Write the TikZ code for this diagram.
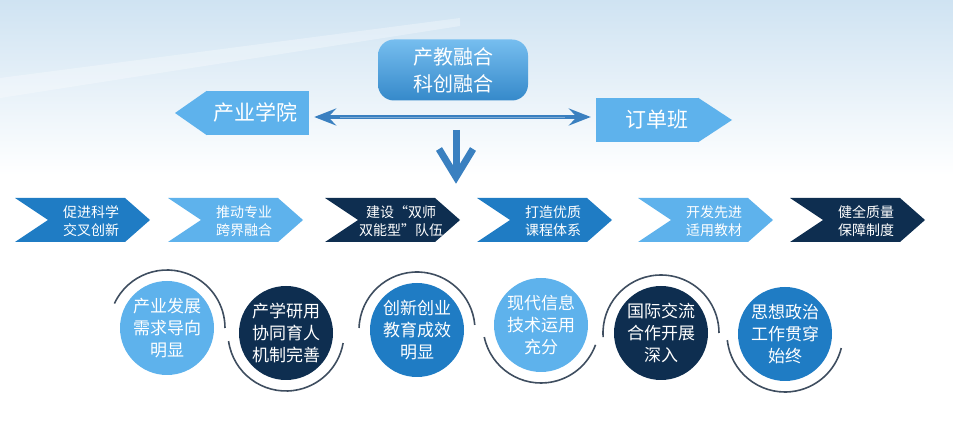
\documentclass[tikz,border=0pt]{standalone}
\usepackage{fontspec}
\setmainfont{Noto Sans CJK SC}
\usetikzlibrary{calc,arrows.meta}
\definecolor{midblue}{HTML}{1F7CC4}
\definecolor{lightblue}{HTML}{5EB2EC}
\definecolor{navy}{HTML}{0E2E50}
\definecolor{arrowblue}{HTML}{3A80C0}
\definecolor{arcgray}{HTML}{3F4E60}
\definecolor{bgblue}{HTML}{CFE3F2}
\tikzstyle{corebox}=[rectangle,rounded corners=16pt,minimum width=150pt,minimum height=61pt,top color=lightblue!85,bottom color=midblue!90,text=white,align=center,font=\fontsize{20}{27}\selectfont]
\tikzstyle{tagbody}=[rectangle,fill=lightblue,minimum width=102pt,minimum height=44pt,inner sep=0pt]
\tikzstyle{tagtext}=[text=white,font=\fontsize{21}{24}\selectfont]
\tikzstyle{chevtext}=[text=white,align=center,inner sep=0pt,font=\fontsize{14}{18}\selectfont]
\tikzstyle{ball}=[circle,minimum size=94pt,inner sep=0pt,text=white,align=center,font=\fontsize{17}{22}\selectfont]
\tikzstyle{ring}=[draw=arcgray,line width=1.6pt]
\tikzstyle{link}=[draw=arrowblue,line width=3.5pt,-{Stealth[length=22pt,width=17pt,inset=8pt]}]

\begin{document}
\begin{tikzpicture}[x=1pt,y=-1pt]
  \useasboundingbox (0,0) rectangle (953,443);
  % background wash
  \shade[top color=bgblue,bottom color=white] (0,0) rectangle (953,175);
  \fill[white,opacity=0.3] (0,78) -- (460,18) -- (460,26) -- (0,98) -- cycle;

  % top box and the two tags
  \node[corebox] (core) at (453,70) {产教融合\\科创融合};
  \node[tagbody] (college) at (258,113) {};
  \fill[lightblue] (college.north west) -- (175,113) -- (college.south west) -- cycle;
  \node[tagtext] at (255,113) {产业学院};
  \node[tagbody] (order) at (647,120) {};
  \fill[lightblue] (order.north east) -- (732,120) -- (order.south east) -- cycle;
  \node[tagtext] at (657,120) {订单班};

  % arrows
  \coordinate (mid) at ($(college.east)!0.5!(order.west)$);
  \draw[link,shorten >=5pt] (mid |- 0,117) -- (order.west |- 0,117);
  \draw[link,shorten >=5pt] (mid |- 0,117) -- (college.east |- 0,117);
  \draw[white,opacity=0.35,line width=0.8pt] (340,117) -- (565,117);
  \coordinate (down-s) at (456,130);
  \coordinate (down-e) at (456,177);
  \draw[arrowblue,line width=7pt] (down-s) -- (down-e);
  \draw[arrowblue,line width=7pt,line join=miter] ($(down-e)+(-17,-28)$) -- (down-e) -- ($(down-e)+(17,-28)$);

  % chevrons
  \foreach \cx/\name/\col/\txt in {15/c1/midblue/{促进科学\\交叉创新}, 168/c2/lightblue/{推动专业\\跨界融合}, 325/c3/navy/{建设“双师\\双能型”队伍}, 477/c4/midblue/{打造优质\\课程体系}, 638/c5/lightblue/{开发先进\\适用教材}, 790/c6/navy/{健全质量\\保障制度}}
  {
    \fill[\col] (\cx,198) -- ++(110,0) -- ++(25,22) -- ++(-25,22) -- ++(-110,0) -- ++(33,-22) -- cycle;
    \node[chevtext] (\name) at (\cx+76,221) {\txt};
  }

  % circles
  \foreach \pos/\name/\col/\txt in {(167,328)/b1/lightblue/{产业发展\\需求导向\\明显}, (286,333)/b2/navy/{产学研用\\协同育人\\机制完善}, (417,330)/b3/midblue/{创新创业\\教育成效\\明显}, (541,325)/b4/lightblue/{现代信息\\技术运用\\充分}, (661,333)/b5/navy/{国际交流\\合作开展\\深入}, (785,334)/b6/midblue/{思想政治\\工作贯穿\\始终}}
        \node[ball,fill=\col] (\name) at \pos {\txt};

  % rings round the circles
  \foreach \name/\from/\to in {b1/-155/0, b2/-188/-350, b3/-178/-5, b4/-192/-340, b5/-184/0, b6/-186/-346}
        \draw[ring] (\name.center) ++(\from:58) arc[start angle=\from,end angle=\to,radius=58];
\end{tikzpicture}
\end{document}
